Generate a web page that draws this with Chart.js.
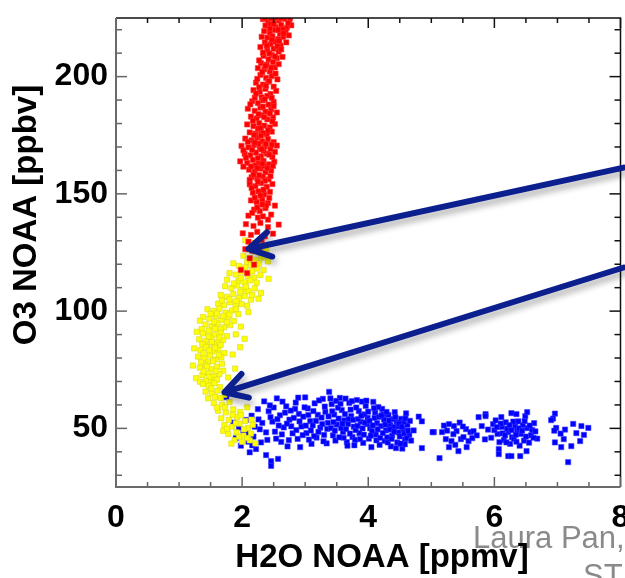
<!DOCTYPE html>
<html>
<head>
<meta charset="utf-8">
<title>O3 vs H2O NOAA</title>
<script src="https://cdn.jsdelivr.net/npm/chart.js@4.4.1/dist/chart.umd.min.js"></script>
<style>
  html, body { margin: 0; padding: 0; background: #fff; }
  #wrap { width: 625px; height: 578px; position: relative; }
</style>
</head>
<body>
<div id="wrap"><canvas id="o3h2oChart" width="625" height="578"></canvas></div>
<script>
// axis ranges and tick labels
const xRange = [0, 8];
const yRange = [25, 225];
const xTickLabels = [0, 2, 4, 6, 8];
const yTickLabels = [50, 100, 150, 200];

// [H2O ppmv, O3 ppbv]
const redPoints = [
  [2.33,224.5],[2.41,223.6],[2.49,224.8],[2.58,223.9],[2.67,224.6],[2.75,223.2],[2.37,221.8],[2.45,222.3],
  [2.53,221.1],[2.62,222.0],[2.71,220.9],[2.78,221.9],[2.35,219.4],[2.44,218.7],[2.52,219.8],[2.60,218.2],
  [2.69,219.1],[2.40,216.6],[2.48,217.2],[2.57,216.0],[2.65,216.9],[2.74,217.6],[2.31,217.0],[2.55,225.0],
  [2.64,220.2],[2.36,225.0],[2.44,220.5],[2.50,222.6],[2.57,220.0],[2.66,218.4],[2.73,222.8],[2.46,225.0],
  [2.61,225.0],[2.76,225.0],
  [2.36,214.5],[2.45,213.8],[2.53,214.9],[2.61,213.2],[2.29,212.6],[2.40,211.4],[2.50,211.9],[2.58,210.7],
  [2.47,209.3],[2.34,208.8],[2.42,207.4],[2.55,207.9],[2.64,208.4],[2.30,205.8],[2.39,205.1],[2.49,206.2],
  [2.39,213.2],[2.47,215.8],[2.56,212.9],[2.62,211.6],[2.33,210.2],[2.43,209.9],[2.52,208.6],[2.59,215.3],
  [2.70,214.6],
  [2.25,203.6],[2.35,203.1],[2.44,202.2],[2.52,203.9],[2.29,200.7],[2.38,199.5],[2.47,200.2],[2.56,198.8],
  [2.22,197.4],[2.33,196.6],[2.41,197.9],[2.50,195.7],[2.18,194.2],[2.28,193.5],[2.37,194.8],[2.45,192.6],
  [2.54,193.9],[2.31,191.2],[2.40,191.8],[2.27,206.9],[2.37,204.6],[2.46,203.8],[2.58,205.3],[2.32,201.9],
  [2.43,198.1],[2.53,201.3],[2.24,199.0],
  [2.16,189.5],[2.25,188.7],[2.33,189.9],[2.42,188.1],[2.50,189.2],[2.09,186.3],[2.20,185.4],[2.29,186.8],
  [2.37,185.1],[2.46,186.0],[2.55,184.7],[2.14,182.9],[2.23,182.2],[2.31,183.5],[2.40,181.8],[2.49,182.6],
  [2.08,179.6],[2.18,178.9],[2.27,180.2],[2.35,179.1],[2.44,178.4],[2.52,179.8],[2.12,176.2],[2.21,175.7],
  [2.30,176.9],[2.39,175.3],[2.47,176.5],[2.25,177.8],[2.33,187.2],[2.20,191.0],[2.36,190.4],[2.47,190.9],
  [2.26,184.0],[2.35,182.7],[2.44,184.3],[2.17,181.2],[2.29,178.0],[2.41,177.1],[2.50,187.4],[2.13,188.2],
  [2.22,192.8],[2.38,196.1],[2.27,195.5],[2.48,180.9],[2.33,175.9],
  [2.05,173.6],[2.15,172.8],[2.24,174.1],[2.32,172.4],[2.41,173.3],[2.50,172.1],[1.99,170.5],[2.10,169.8],
  [2.19,170.9],[2.28,169.4],[2.36,170.2],[2.45,169.1],[2.55,170.6],[2.04,167.1],[2.13,166.4],[2.22,167.6],
  [2.30,166.0],[2.39,167.2],[2.48,165.8],[1.97,163.9],[2.08,163.2],[2.17,164.5],[2.26,163.0],[2.34,164.1],
  [2.43,162.6],[2.51,163.7],[2.11,160.3],[2.20,159.6],[2.29,160.8],[2.37,159.2],[2.46,160.0],[2.15,157.1],
  [2.24,156.5],[2.33,157.4],[2.42,156.2],[2.26,171.5],[2.35,161.8],[2.21,162.1],[2.09,172.2],[2.20,171.9],
  [2.30,174.8],[2.38,171.3],[2.47,171.0],[2.02,168.6],[2.16,168.8],[2.25,165.2],[2.34,168.3],[2.43,166.7],
  [2.52,167.9],[2.06,165.5],[2.14,161.7],[2.24,161.0],[2.32,162.9],[2.40,161.0],[2.49,161.9],[2.02,161.6],
  [2.18,158.2],[2.27,158.0],[2.36,155.6],[2.45,157.6],[2.12,156.0],[2.31,169.0],[2.19,175.0],
  [2.12,154.1],[2.21,153.3],[2.30,154.6],[2.39,153.0],[2.48,154.2],[2.17,150.5],[2.26,151.1],[2.35,149.8],
  [2.44,150.9],[2.14,147.2],[2.23,146.6],[2.32,147.7],[2.41,146.1],[2.52,145.0],[2.19,143.3],[2.28,142.6],
  [2.37,143.9],[2.10,140.7],[2.25,139.9],[2.46,141.2],[2.33,140.4],[2.15,152.6],[2.25,155.2],[2.34,151.8],
  [2.43,148.3],[2.20,148.4],[2.29,149.3],[2.38,145.1],[2.24,144.2],[2.16,141.9],[2.32,145.4],[2.41,139.0],
  [2.06,137.1],[2.18,136.3],[2.29,137.6],[2.41,135.8],[2.58,136.9],[2.01,133.2],[2.14,132.5],[2.24,133.8],
  [2.36,131.9],[2.49,133.0],[2.10,129.6],[2.21,128.9],[2.31,130.3],[2.05,126.4],[2.16,125.8],[2.27,127.1],
  [2.12,122.5],[2.19,119.8],[1.98,117.6],[2.08,116.2]
];

const yellowPoints = [
  [2.05,130.2],[2.14,129.1],[2.24,128.6],[2.33,127.4],[2.10,126.3],[2.19,125.5],[2.28,124.8],[2.38,125.9],
  [2.02,123.6],[2.12,122.7],[2.22,121.9],[2.31,122.8],[2.41,121.2],[2.17,127.0],[2.26,126.9],[2.35,123.6],
  [2.08,120.9],[2.18,121.0],[2.27,120.3],
  [1.86,120.4],[1.95,119.3],[2.05,118.7],[2.14,119.6],[2.24,118.1],[2.34,117.5],[1.80,116.2],[1.90,115.6],
  [2.00,116.8],[2.09,115.0],[2.19,114.3],[2.29,115.4],[2.42,113.8],[1.94,112.9],[2.04,112.3],[2.13,113.1],
  [1.76,113.4],[1.98,114.1],[2.16,117.0],[2.23,112.1],
  [1.73,110.6],[1.83,109.8],[1.92,110.9],[2.01,109.2],[2.10,108.5],[2.20,109.7],[2.30,107.8],[1.66,106.9],
  [1.76,106.1],[1.86,107.3],[1.95,105.6],[2.04,106.4],[2.14,104.9],[2.26,105.3],[1.62,103.2],[1.71,102.5],
  [1.81,103.7],[1.90,102.1],[1.99,103.0],[1.87,111.8],[1.97,108.2],[2.06,110.4],[2.16,106.9],[1.80,105.0],
  [1.91,104.3],[2.08,102.3],[1.68,104.6],
  [1.45,100.8],[1.55,100.1],[1.64,101.0],[1.74,99.4],[1.84,100.3],[1.94,98.7],[2.10,99.6],[1.38,97.5],
  [1.48,96.8],[1.58,97.9],[1.67,96.2],[1.77,97.1],[1.87,95.8],[1.42,94.3],[1.52,93.6],[1.61,94.7],
  [1.71,93.1],[1.81,94.0],[1.98,93.4],[1.33,95.9],[1.36,92.4],[1.60,99.0],[1.70,98.0],[1.80,98.5],
  [1.90,100.9],[1.50,98.8],[1.56,95.4],[1.66,92.2],[1.76,95.3],
  [1.28,91.2],[1.38,90.5],[1.47,91.7],[1.56,89.9],[1.66,90.8],[1.76,89.3],[1.90,90.1],[1.32,88.0],
  [1.42,87.3],[1.51,88.4],[1.61,86.8],[1.70,87.7],[2.04,88.2],[1.45,85.3],[1.55,85.9],[1.47,89.1],
  [1.57,92.5],[1.37,86.0],[1.52,86.9],[1.64,88.8],
  [1.24,84.1],[1.34,83.4],[1.43,84.6],[1.53,82.8],[1.62,83.7],[1.72,82.1],[1.30,80.6],[1.40,79.9],
  [1.49,81.1],[1.58,79.4],[1.67,80.3],[1.85,81.5],[1.46,78.2],[1.97,84.6],[1.39,82.0],[1.48,83.3],
  [1.57,84.4],[1.66,85.6],[1.35,78.2],[1.54,78.7],[1.63,81.3],
  [1.22,76.8],[1.33,75.9],[1.42,77.1],[1.51,75.3],[1.60,76.2],[1.70,74.6],[1.89,75.5],[1.37,72.8],
  [1.46,73.5],[1.55,72.2],[1.64,73.1],[1.27,71.4],[1.50,70.6],[1.78,71.7],[1.44,76.4],[1.39,74.3],
  [1.48,71.9],[1.58,74.5],[1.68,77.6],[1.33,69.9],[1.43,70.2],[1.60,70.8],
  [1.38,68.9],[1.47,68.2],[1.56,69.3],[1.65,67.6],[1.42,65.7],[1.52,65.0],[1.61,66.1],[1.72,64.3],
  [1.46,62.8],[1.57,63.4],[1.51,67.0],[1.66,63.0],
  [1.55,60.8],[1.68,60.1],[1.80,61.2],[1.62,57.5],[1.74,56.8],[1.86,58.1],[1.97,57.0],[2.08,59.0],
  [1.67,54.3],[1.79,53.6],[1.92,54.9],[2.05,53.2],[1.60,58.9],[1.73,59.0],[1.85,55.8],[1.98,55.6],
  [2.15,53.7],
  [1.72,51.4],[1.84,50.7],[1.96,52.0],[2.09,50.2],[2.17,51.5],[1.78,47.6],[1.91,48.3],[2.02,46.9],
  [2.14,47.8],[1.88,45.0],[2.00,44.2],[2.12,44.9],[2.21,43.6],[1.70,48.9],[1.76,49.9],[1.90,52.2],
  [2.03,49.6],[1.95,46.5],[2.08,45.9],[1.83,43.5]
];

const bluePoints = [
  [1.75,63.3],[1.86,52.5],[1.95,50.4],[2.02,48.0],[1.90,45.8],[2.10,44.3],[1.98,42.6],[2.18,46.5],
  [2.22,41.2],[2.06,53.6],[2.15,55.4],[2.25,58.2],[2.28,49.6],[2.12,39.8],[2.30,44.0],[2.20,50.7],
  [2.26,53.8],[2.08,47.7],[2.16,42.8],
  [2.46,36.0],[2.57,37.0],[2.46,34.0],[2.38,38.6],
  [2.35,61.5],[2.42,57.3],[2.48,52.9],[2.52,48.6],[2.40,45.1],[2.55,62.8],[2.60,55.6],[2.66,50.4],
  [2.62,44.2],[2.70,59.4],[2.75,53.7],[2.80,47.9],[2.72,42.3],[2.85,61.0],[2.90,56.2],[2.94,50.8],
  [2.88,45.5],[3.00,63.2],[3.04,58.5],[3.08,53.1],[3.02,48.0],[3.10,43.4],[3.15,60.7],[3.20,55.8],
  [3.24,50.3],[3.18,46.1],[3.28,62.6],[3.32,57.0],[3.36,52.4],[3.30,47.2],[3.38,65.6],[2.50,58.9],
  [2.58,51.2],[2.68,56.7],[2.78,50.9],[2.97,55.0],[3.12,51.3],[3.26,54.6],[2.45,54.8],[2.84,58.3],
  [3.06,45.2],[2.92,42.0],[3.34,43.6],
  [2.32,52.3],[2.38,48.3],[2.44,59.8],[2.54,45.6],[2.56,53.9],[2.64,61.4],[2.63,47.4],[2.71,52.0],
  [2.74,45.0],[2.77,57.6],[2.82,54.5],[2.86,49.3],[2.89,63.1],[2.91,53.0],[2.96,47.1],[2.99,59.0],
  [3.01,51.2],[3.05,55.7],[3.09,49.1],[3.13,57.4],[3.14,46.7],[3.17,53.2],[3.21,48.5],[3.22,61.9],
  [3.27,51.8],[3.29,44.5],[3.31,59.3],[3.35,49.8],[3.37,55.1],[3.40,62.8],
  [3.42,60.3],[3.46,55.9],[3.50,51.6],[3.44,47.0],[3.55,63.0],[3.58,57.8],[3.62,53.4],[3.60,48.5],
  [3.66,44.1],[3.70,60.9],[3.73,55.2],[3.77,50.7],[3.75,46.3],[3.82,62.1],[3.85,57.4],[3.88,52.8],
  [3.86,48.0],[3.92,43.8],[3.96,59.6],[3.99,54.5],[4.03,50.0],[4.01,45.6],[4.08,61.3],[4.11,56.8],
  [4.14,52.2],[4.12,47.4],[4.18,43.0],[4.22,58.3],[4.25,53.8],[4.28,49.1],[4.26,44.7],[4.32,55.7],
  [4.35,51.4],[4.38,47.0],[4.36,42.3],[4.42,56.9],[4.45,52.6],[4.48,48.3],[4.46,44.0],[4.52,54.1],
  [4.55,49.7],[4.58,45.2],[4.54,41.4],[4.62,51.5],[4.65,47.2],[4.60,56.4],[3.52,58.8],[3.68,51.9],
  [3.80,49.3],[3.94,56.0],[4.06,48.8],[4.20,51.0],[4.30,46.2],[4.40,50.5],[4.50,46.6],[3.64,62.7],
  [3.90,61.4],[4.16,59.1],[3.48,44.8],[3.78,42.8],[4.05,42.0],[4.44,41.6],[3.57,50.1],[3.84,54.0],
  [4.10,54.5],[4.34,49.6],[4.56,52.8],[3.45,52.7],[3.72,58.0],[3.98,51.8],[4.24,56.1],[4.47,50.9],
  [3.61,46.0],[3.87,45.4],[4.13,44.9],[4.39,53.9],[4.58,43.2],
  [3.41,50.1],[3.43,57.3],[3.47,49.0],[3.49,61.7],[3.53,54.2],[3.54,46.2],[3.56,60.5],[3.59,52.0],
  [3.63,56.1],[3.65,49.7],[3.67,42.6],[3.69,54.0],[3.71,47.8],[3.74,61.6],[3.76,53.6],[3.79,45.1],
  [3.81,58.9],[3.83,51.1],[3.89,55.4],[3.91,50.0],[3.93,47.3],[3.95,52.5],[3.97,61.8],[4.00,57.1],
  [4.02,53.2],[4.04,46.9],[4.07,51.3],[4.09,58.6],[4.15,49.6],[4.17,54.9],[4.19,46.0],[4.21,55.5],
  [4.23,48.0],[4.27,51.6],[4.29,57.0],[4.31,44.0],[4.33,53.3],[4.37,45.5],[4.41,48.6],[4.43,54.8],
  [4.49,52.0],[4.51,43.5],[4.53,50.7],[4.57,47.8],[4.59,54.2],[4.61,45.8],[4.63,49.0],[4.66,53.2],
  [4.68,44.8],
  [4.80,55.0],[4.85,53.0],[4.85,41.6],[4.72,49.1],[5.04,48.4],
  [5.17,48.4],[5.28,51.8],[5.36,51.0],[5.40,48.8],[5.55,49.7],[5.62,48.4],[5.67,48.8],[5.23,45.4],
  [5.32,44.6],[5.47,45.4],[5.51,46.3],[5.59,44.6],[5.28,42.0],[5.43,40.3],[5.56,42.0],[5.02,48.4],
  [5.13,37.3],[5.20,51.2],[5.45,52.5],[5.72,47.0],[5.35,47.5],[5.25,49.0],[5.38,43.0],[5.50,50.8],
  [5.65,45.8],
  [5.75,54.8],[5.86,56.1],[5.86,55.2],[6.11,54.8],[6.27,56.5],[6.35,56.1],[6.49,55.2],[6.52,56.9],
  [5.80,51.0],[5.90,49.5],[5.98,51.8],[6.05,47.6],[6.12,50.6],[6.18,52.6],[6.22,48.4],[6.28,46.2],
  [6.33,50.8],[6.38,53.0],[6.42,47.7],[6.47,44.8],[6.52,50.1],[6.58,47.0],[6.63,52.2],[6.68,45.6],
  [6.15,45.0],[6.25,43.4],[6.40,42.6],[6.55,43.9],[5.95,46.0],[6.08,44.1],[6.30,52.9],[6.20,49.9],
  [6.36,48.8],[6.45,51.4],[6.60,49.3],[6.02,53.4],[6.13,47.9],[6.27,49.3],[6.50,46.5],[6.65,48.7],
  [5.85,45.3],[6.07,41.2],[6.07,39.0],[6.22,38.2],[6.27,38.2],[6.41,38.2],[6.51,40.3],
  [6.00,49.2],[6.10,52.0],[6.17,47.0],[6.24,51.4],[6.31,45.5],[6.34,47.3],[6.39,50.0],[6.44,49.0],
  [6.48,53.1],[6.56,51.2],[6.62,46.0],[6.19,44.0],[6.35,44.3],[6.04,50.5],
  [6.96,56.3],[6.93,54.2],[6.90,53.5],[6.98,50.2],[7.12,49.5],[7.25,51.9],[7.38,51.0],[7.49,50.2],
  [7.06,42.0],[7.22,42.4],[7.36,44.6],[7.17,35.6],[7.10,45.4],[6.96,44.0],[7.05,47.8],[7.30,48.0],
  [7.42,47.2],[6.95,49.0]
];

// the two annotation arrows: [start, tip] in data units
const arrows = [
  [[8.05, 161.2], [2.10, 126.5]],
  [[8.05, 118.6], [1.72, 65.4]]
];

const FONT = "'Liberation Sans', Arial, Helvetica, sans-serif";

function toXY(list) {
  return list.map(p => ({ x: p[0], y: p[1] }));
}

const frameBox = {
  id: 'frameBox',
  afterDatasetsDraw(chart) {
    const { ctx, chartArea: a, scales: { x, y } } = chart;
    ctx.save();
    ctx.lineCap = 'butt';
    // top + right edges
    ctx.strokeStyle = '#111';
    ctx.lineWidth = 1.5;
    ctx.beginPath();
    ctx.moveTo(a.left, a.top);
    ctx.lineTo(a.right, a.top);
    ctx.lineTo(a.right, a.bottom);
    ctx.stroke();
    // x ticks every 0.5
    for (let v = xRange[0]; v <= xRange[1] + 1e-9; v += 0.5) {
      const px = x.getPixelForValue(v);
      const len = xTickLabels.includes(v) ? 10 : 5;
      ctx.strokeStyle = '#111';
      ctx.beginPath(); ctx.moveTo(px, a.top); ctx.lineTo(px, a.top + len); ctx.stroke();
      ctx.strokeStyle = '#666';
      ctx.beginPath(); ctx.moveTo(px, a.bottom); ctx.lineTo(px, a.bottom - len); ctx.stroke();
    }
    // y ticks every 10
    for (let v = 30; v <= 220; v += 10) {
      const py = y.getPixelForValue(v);
      const len = yTickLabels.includes(v) ? 11 : 6;
      ctx.strokeStyle = '#666';
      ctx.beginPath(); ctx.moveTo(a.left, py); ctx.lineTo(a.left + len, py); ctx.stroke();
      ctx.strokeStyle = '#111';
      ctx.beginPath(); ctx.moveTo(a.right, py); ctx.lineTo(a.right - len, py); ctx.stroke();
    }
    // left + bottom edges (grey)
    ctx.strokeStyle = '#6a6a6a';
    ctx.lineWidth = 2;
    ctx.beginPath();
    ctx.moveTo(a.left, a.top);
    ctx.lineTo(a.left, a.bottom);
    ctx.lineTo(a.right, a.bottom);
    ctx.stroke();
    ctx.restore();
  },
  afterDraw(chart) {
    const { ctx, scales: { x, y } } = chart;
    ctx.save();
    // arrows with a soft shadow
    arrows.forEach(([from, to]) => {
      const x0 = x.getPixelForValue(from[0]), y0 = y.getPixelForValue(from[1]);
      const x1 = x.getPixelForValue(to[0]), y1 = y.getPixelForValue(to[1]);
      const ang = Math.atan2(y0 - y1, x0 - x1);
      const head = 25, spread = 0.52;
      ctx.shadowColor = 'rgba(0,0,0,0.3)';
      ctx.shadowBlur = 6;
      ctx.shadowOffsetX = 2;
      ctx.shadowOffsetY = 5;
      ctx.strokeStyle = '#0c1f8f';
      ctx.lineWidth = 6;
      ctx.lineCap = 'round';
      ctx.lineJoin = 'round';
      ctx.beginPath();
      ctx.moveTo(x0, y0);
      ctx.lineTo(x1, y1);
      ctx.moveTo(x1 + head * Math.cos(ang - spread), y1 + head * Math.sin(ang - spread));
      ctx.lineTo(x1, y1);
      ctx.lineTo(x1 + head * Math.cos(ang + spread), y1 + head * Math.sin(ang + spread));
      ctx.stroke();
    });
    ctx.shadowColor = 'transparent';

    // credit text (grey, cut by the edge)
    ctx.fillStyle = '#8a8a8a';
    ctx.font = '31px ' + FONT;
    ctx.textAlign = 'left';
    ctx.textBaseline = 'alphabetic';
    ctx.fillText('Laura Pan,', 473, 548);
    ctx.fillText('ST', 583, 586);

    // axis titles
    ctx.fillStyle = '#000';
    ctx.font = 'bold 33px ' + FONT;
    ctx.textAlign = 'center';
    ctx.fillText('H2O NOAA [ppmv]', 382, 567);
    ctx.translate(36, 215);
    ctx.rotate(-Math.PI / 2);
    ctx.fillText('O3 NOAA [ppbv]', 0, 0);
    ctx.restore();
  }
};

const chartCanvas = document.getElementById('o3h2oChart');
const o3h2oChart = new Chart(chartCanvas.getContext('2d'), {
  type: 'scatter',
  data: {
    datasets: [
      { label: 'stratosphere', data: toXY(redPoints), backgroundColor: '#ff0000', borderColor: 'rgba(255,60,60,0.7)' },
      { label: 'mixing layer', data: toXY(yellowPoints), backgroundColor: '#ffff00', borderColor: 'rgba(215,215,40,0.8)' },
      { label: 'troposphere', data: toXY(bluePoints), backgroundColor: '#0000ff', borderColor: 'rgba(60,60,255,0.7)' }
    ]
  },
  options: {
    responsive: false,
    animation: false,
    devicePixelRatio: 1,
    layout: { padding: { top: 18, right: 3, left: 0, bottom: 0 } },
    elements: { point: { pointStyle: 'rect', radius: 3.7, borderWidth: 0.8, hoverRadius: 3.7 } },
    plugins: { legend: { display: false }, tooltip: { enabled: false } },
    scales: {
      x: {
        type: 'linear',
        min: xRange[0], max: xRange[1],
        grid: { display: false, drawTicks: false },
        border: { display: false },
        afterBuildTicks: s => { s.ticks = xTickLabels.map(v => ({ value: v })); },
        afterFit: s => { s.height = 91; s.paddingLeft = 0; s.paddingRight = 0; },
        ticks: { color: '#000', padding: 12, maxRotation: 0, autoSkip: false,
                 font: { family: FONT, size: 32, weight: 'bold' } }
      },
      y: {
        type: 'linear',
        min: yRange[0], max: yRange[1],
        grid: { display: false, drawTicks: false },
        border: { display: false },
        afterBuildTicks: s => { s.ticks = yTickLabels.map(v => ({ value: v })); },
        afterFit: s => { s.width = 116; s.paddingTop = 0; s.paddingBottom = 0; },
        ticks: { color: '#000', padding: 8, autoSkip: false,
                 font: { family: FONT, size: 32, weight: 'bold' } }
      }
    }
  },
  plugins: [frameBox]
});
</script>
</body>
</html>
